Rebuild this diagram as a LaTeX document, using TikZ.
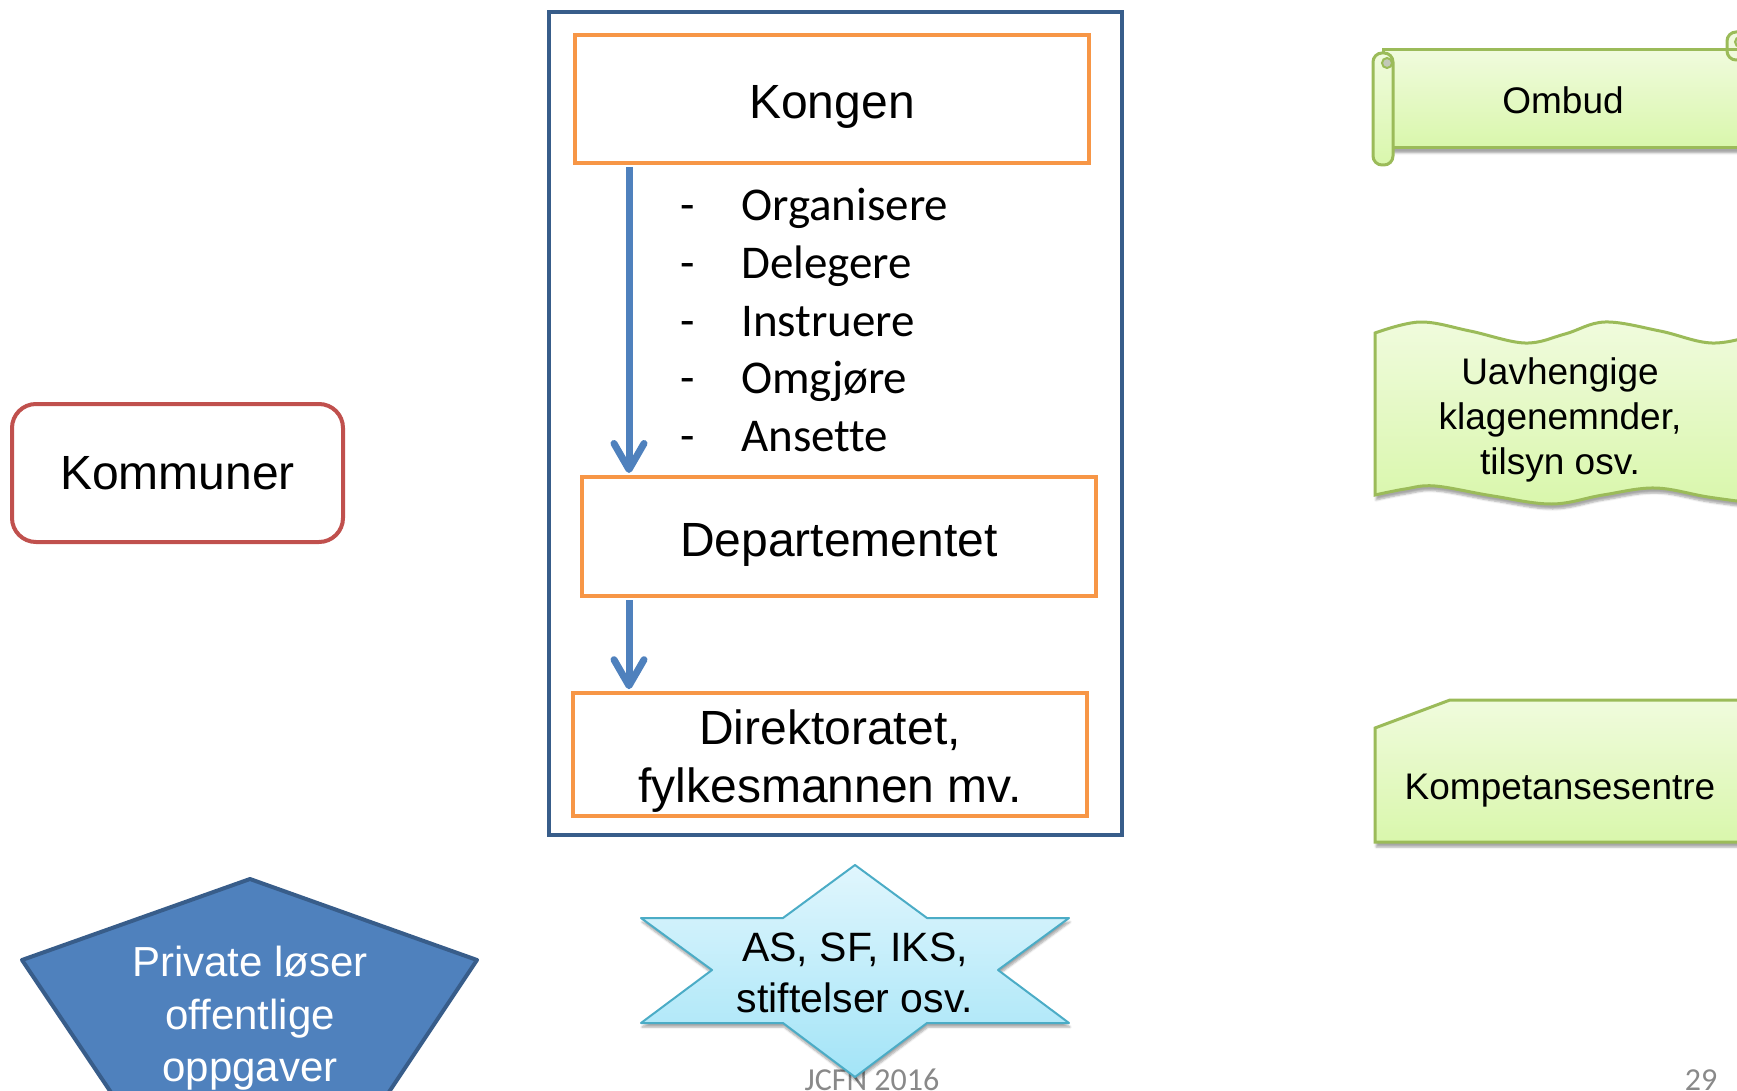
\documentclass[tikz,border=0pt]{standalone}
\usepackage{fontspec}
\setmainfont{Liberation Sans}
\newfontfamily\calibri[Ligatures=NoCommon]{Carlito}
\usetikzlibrary{arrows.meta,positioning,shadows.blur,calc}
\definecolor{ramme}{RGB}{56,93,138}
\definecolor{pilblaa}{RGB}{79,129,189}
\definecolor{oransje}{RGB}{247,150,70}
\definecolor{roed}{RGB}{192,80,77}
\definecolor{groenn}{RGB}{155,187,89}
\definecolor{groennlys}{RGB}{240,251,221}
\definecolor{groennmork}{RGB}{217,247,172}
\definecolor{turkis}{RGB}{75,172,198}
\definecolor{isblaa}{RGB}{224,246,253}
\definecolor{himmel}{RGB}{163,228,247}
\definecolor{graa}{RGB}{137,137,137}

\begin{document}
\begin{tikzpicture}[x=1pt, y=-1pt,
    boks/.style={rectangle, draw=oransje, line width=4pt, fill=white,
                 minimum width=514pt, align=center, font=\fontsize{48}{58}\selectfont,
                 execute at begin node={\rule{0pt}{49pt}}},
    pil/.style={draw=pilblaa, line width=7pt, line cap=butt,
                -{Straight Barb[length=26pt,width=30pt,line cap=round,line join=round]}},
    punkt/.style={anchor=base west, inner sep=0pt, font=\calibri\fontsize{47}{56}\selectfont},
    groennform/.style={draw=groenn, line width=3pt, top color=groennlys, bottom color=groennmork,
                 blur shadow={shadow xshift=1pt, shadow yshift=-5pt, shadow blur steps=5, shadow opacity=35}},
    groenntekst/.style={align=center, font=\fontsize{37}{45}\selectfont},
    fot/.style={text=graa, font=\calibri\fontsize{32}{38}\selectfont}
]
    \useasboundingbox (0,0) rectangle (1737,1091);

    % Frame
    \node[draw=ramme, line width=4.5pt, minimum width=573pt, minimum height=823pt] (rammen) at (835.5,423.5) {};

    % Chain of command
    \node[boks, minimum height=128pt] (kongen) at (832,99) {Kongen};
    \node[boks, minimum height=119pt] (dept) at (839,536.5) {Departementet};
    \node[boks, minimum height=119pt] (dir) at (830,754.5) {\rule{0pt}{48pt}Direktoratet,\\fylkesmannen mv.};

    % Arrows
    \coordinate (pilx) at (629,0);
    \draw[pil, shorten <=2pt, shorten >=2pt] (kongen.south -| pilx) -- (dept.north -| pilx);
    \draw[pil, shorten <=2pt, shorten >=2pt] (dept.south -| pilx) -- (dir.north -| pilx);

    % List
    \foreach \ord [count=\i] in {Organisere,Delegere,Instruere,Omgjøre,Ansette}{
        \node[punkt] (strek\i) at (680,{221+57.5*(\i-1)}) {-};
        \node[punkt] (ledd\i) at (741,{221+57.5*(\i-1)}) {\ord};
    }

    % Kommuner
    \node[draw=roed, line width=4pt, rounded corners=24pt, minimum width=331pt,
          minimum height=138pt, font=\fontsize{48}{58}\selectfont] (kommuner) at (177.5,473) {Kommuner};

    % Private
    \filldraw[fill=pilblaa, draw=ramme, line width=4pt, line join=round]
        (250,879) -- (477,960) -- (357,1140) -- (143,1140) -- (22,960) -- cycle;
    \node[text=white, align=center, font=\fontsize{42}{52.5}\selectfont] (private) at (250,1014)
        {\rule{0pt}{39pt}Private løser\\offentlige\\oppgaver};

    % Footer
    \node[fot] (aar) at (872,1080) {JCFN 2016};
    \node[fot] (side) at (1701,1080) {29};

    % Star
    \path[draw=turkis, line width=2pt, line join=round, top color=isblaa, bottom color=himmel,
          blur shadow={shadow xshift=1pt, shadow yshift=-4pt, shadow blur steps=5, shadow opacity=35}]
        (855,865) -- (927,918) -- (1069,918) -- (998,970) -- (1069,1023) -- (927,1023)
        -- (855,1077) -- (783,1023) -- (641,1023) -- (712,970) -- (641,918) -- (783,918) -- cycle;
    \node[align=center, font=\fontsize{41}{51}\selectfont] (selskap) at (855,973)
        {AS, SF, IKS,\\stiftelser osv.};

    % Ombud scroll
    \path[groennform] (1383,50) rectangle (1790,148);
    \path[draw=groenn, line width=3pt, top color=groennlys, bottom color=groennmork,
          rounded corners=9pt] (1373,53) rectangle (1393,165);
    \filldraw[fill=groenn!30!gray!50, draw=groenn, line width=2pt] (1387,63) circle (5pt);
    \path[draw=groenn, line width=3pt, fill=groennlys, rounded corners=9pt] (1727,32) rectangle (1760,60);
    \filldraw[fill=groenn!30!gray!50, draw=groenn, line width=2pt] (1740,42) circle (5pt);
    \draw[groenn, line width=3pt] (1700,50) -- (1737,50);
    \node[groenntekst] (ombud) at (1563,100) {Ombud};

    % Wave
    \path[groennform]
        plot[smooth, tension=0.6] coordinates {(1375,333) (1420,322) (1470,331) (1525,343)
            (1565,334) (1605,322) (1660,331) (1712,343) (1760,334) (1790,326)}
        -- (1790,497)
        -- plot[smooth, tension=0.6] coordinates {(1760,504) (1708,497) (1655,488) (1603,495)
            (1552,504) (1493,496) (1435,486) (1405,489) (1375,495)}
        -- cycle;
    \node[groenntekst] (klage) at (1560,416) {\rule{0pt}{35pt}Uavhengige\\klagenemnder,\\tilsyn osv.};

    % Snip
    \path[groennform] (1375,728) -- (1450,700) -- (1790,700) -- (1790,842) -- (1375,842) -- cycle;
    \node[groenntekst] (kompetanse) at (1560,785) {\rule{0pt}{37pt}Kompetansesentre};
\end{tikzpicture}
\end{document}
